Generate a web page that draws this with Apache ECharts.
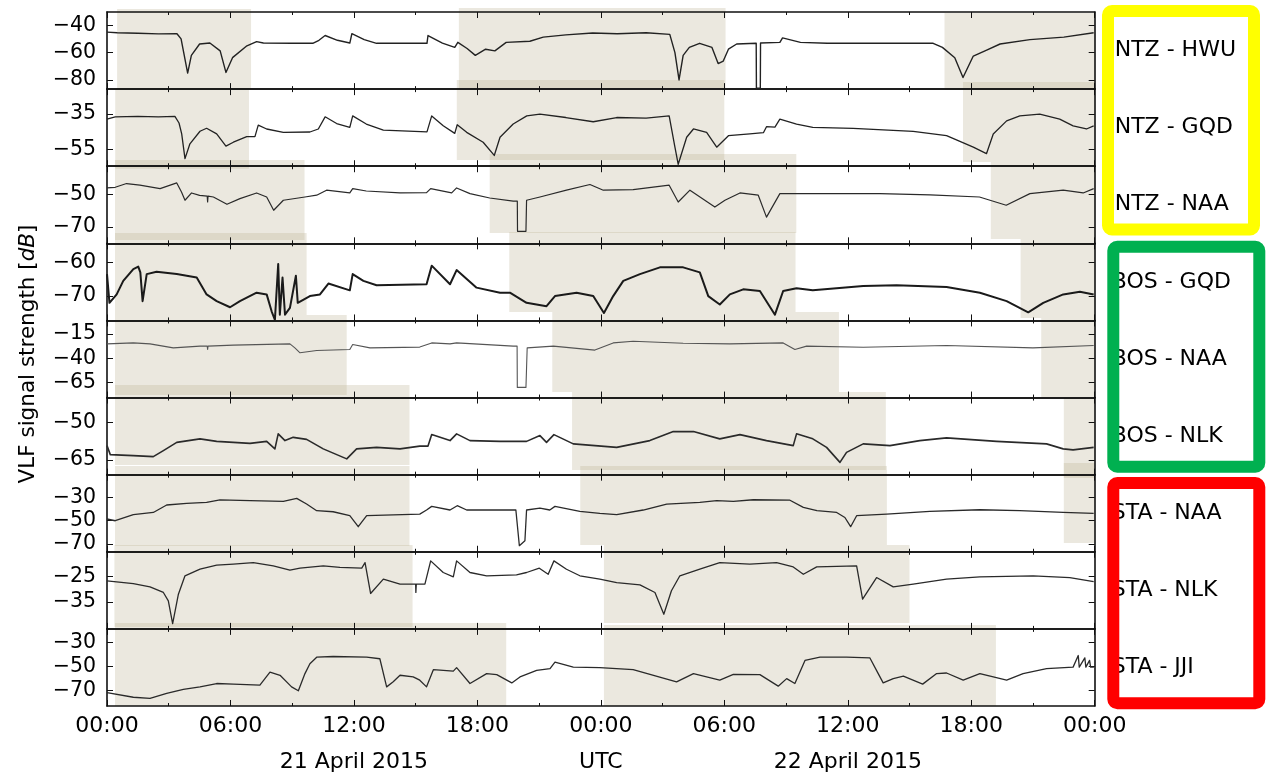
<!DOCTYPE html>
<html><head><meta charset="utf-8">
<script src="https://cdn.jsdelivr.net/npm/echarts@6/dist/echarts.min.js"></script>
<style>html,body{margin:0;padding:0;background:#fff}#c{width:1272px;height:777px}</style>
</head><body><div id="c"></div>
<script>
// ---------- data ----------
const stations = ['NTZ - HWU','NTZ - GQD','NTZ - NAA','BOS - GQD','BOS - NAA','BOS - NLK','STA - NAA','STA - NLK','STA - JJI'];
// hours since 21 April 2015 00:00 UTC, signal in dB
const ntzHwu = [[0,-45],[0.5,-45.5],[1.5,-45.8],[2.5,-46.3],[3.4,-46.2],[3.6,-50],[3.92,-75],[4.1,-62],[4.5,-53.7],[5.0,-53],[5.5,-58.7],[5.78,-74.5],[6.1,-63.7],[6.8,-55],[7.27,-52],[7.6,-53],[9.0,-53.2],[10.0,-53.2],[10.3,-51],[10.6,-47.5],[11.2,-51],[11.8,-53],[11.9,-46.2],[12.5,-50.5],[13.1,-53.2],[14.5,-53.2],[15.55,-53.2],[15.6,-47.5],[16.3,-53],[16.9,-56.2],[17.05,-52.5],[17.5,-57],[17.9,-62],[18.4,-57.5],[18.85,-58.7],[19.4,-52.5],[20.55,-51.7],[21.2,-48.7],[22.3,-47],[23.6,-45.7],[24.8,-46.2],[26.2,-45.5],[27.35,-46.7],[27.6,-60],[27.8,-80],[28.0,-62],[28.3,-56.2],[28.8,-53.2],[29.4,-56.2],[29.7,-68],[29.95,-66.2],[30.2,-57.5],[30.6,-53.7],[31.55,-53.2],[31.56,-86],[31.75,-86],[31.76,-53],[32.7,-52.5],[32.83,-49.2],[33.7,-52.5],[35,-53.2],[38,-53.2],[40.15,-53.2],[40.6,-56.2],[41.2,-63.7],[41.6,-78.2],[42.1,-62.5],[42.75,-58.2],[43.4,-53.7],[44.85,-50.5],[46.5,-48.7],[47.95,-45.5]];
const ntzGqd = [[0,-37.8],[0.4,-36.5],[1.5,-36.3],[2.5,-36.5],[3.3,-36.3],[3.5,-40],[3.63,-46.2],[3.79,-60.2],[4.03,-51.8],[4.52,-44.7],[4.84,-43],[5.33,-46.2],[5.78,-53.1],[6.14,-50.9],[6.79,-47.7],[7.19,-47.7],[7.35,-41.2],[7.76,-43.4],[8.57,-45.3],[9.86,-45.1],[10.27,-43.4],[10.6,-36.5],[11.16,-40.3],[11.8,-42.5],[11.94,-36],[12.6,-40.6],[13.43,-44],[15.55,-45],[15.78,-36],[16.34,-41.6],[16.9,-45.9],[17.02,-41],[17.48,-45.3],[18.28,-50.9],[18.82,-58.4],[19.1,-48.1],[19.74,-40.6],[20.4,-36],[21.04,-35],[22.3,-36.9],[23.63,-39.3],[24.77,-36.9],[26.2,-37.3],[27.32,-36],[27.6,-53.7],[27.76,-63.4],[28.17,-48.1],[28.5,-43.4],[29.14,-45.3],[29.63,-53.7],[30.2,-47.2],[31.24,-46.2],[31.9,-45.5],[32.05,-42.1],[32.46,-42.3],[32.7,-37.8],[33.51,-40.6],[34.3,-42.5],[36.26,-43],[39.18,-44.7],[40.8,-47.2],[42.1,-53.7],[42.74,-57.4],[43.07,-46.2],[43.72,-38.8],[44.36,-36],[45.33,-35],[46.3,-37.8],[46.95,-41.6],[47.6,-43.4],[47.95,-41.6]];
const ntzNaa = [[0,-45.9],[0.4,-45.5],[0.95,-43.2],[1.6,-44.2],[2.58,-46.3],[3.39,-42.8],[3.62,-48.4],[3.79,-53.5],[4.11,-49],[4.5,-50.5],[4.87,-51],[4.89,-54.6],[4.91,-51],[5.17,-51.5],[5.83,-56],[6.46,-52.5],[7.27,-49],[7.76,-51.5],[8.1,-59.7],[8.57,-53.5],[9.62,-51.5],[10.19,-50.4],[10.67,-47.3],[11.8,-49],[11.94,-46.3],[12.6,-47.8],[14.24,-49],[15.53,-48.8],[15.73,-46.3],[16.75,-49],[16.99,-45.9],[17.64,-49.4],[18.6,-52.1],[19.74,-54.1],[19.94,-54.1],[19.95,-72.7],[20.36,-72.7],[20.39,-53.5],[21.04,-51.5],[22.33,-47.3],[23.47,-43.8],[24.12,-47.3],[25.57,-46.9],[27.32,-44.2],[27.76,-54.6],[28.33,-47.3],[29.54,-57.7],[30.03,-53.5],[30.76,-49],[31.65,-50.4],[32.05,-63.9],[32.7,-49.4],[34.6,-49.4],[37.56,-49.4],[40,-50.2],[42.4,-51.5],[43.7,-56.6],[44.85,-49.4],[46.47,-47.3],[47.44,-49],[47.95,-46.3]];
const bosGqd = [[0,-63.5],[0.12,-72],[0.47,-69.5],[0.79,-65.5],[1.28,-62],[1.52,-61.3],[1.62,-63],[1.73,-71.5],[1.93,-63.5],[2.41,-62.8],[3.39,-63.5],[4.36,-64.5],[4.84,-69.5],[5.33,-71.5],[5.98,-73.3],[6.46,-71.5],[7.27,-69],[7.76,-69.5],[8.0,-74.5],[8.16,-77],[8.32,-60.5],[8.4,-75.5],[8.53,-64.5],[8.65,-75.5],[8.89,-73.5],[9.18,-64],[9.27,-72],[9.86,-70],[10.35,-69.5],[10.76,-66.3],[11.8,-68.3],[11.94,-63.5],[12.46,-65.5],[13.1,-66.8],[15.53,-66.5],[15.78,-61],[16.67,-66.5],[16.99,-62.3],[17.96,-67.5],[19.1,-69],[19.58,-69],[20.39,-72],[21.36,-73],[21.77,-70],[22.82,-69],[23.63,-70],[24.15,-75],[24.6,-70],[25.09,-65.5],[25.9,-63.5],[26.87,-61.5],[28.0,-61.5],[28.81,-63],[29.22,-70],[29.78,-72.5],[30.27,-69.5],[30.92,-68],[31.73,-68.5],[32.46,-75.5],[32.86,-68.5],[33.51,-67.7],[34.3,-68.3],[36.75,-67],[38.37,-66.8],[40.8,-67.3],[42.42,-69],[43.72,-71.5],[44.77,-74.8],[45.5,-72],[46.47,-69.5],[47.28,-68.7],[47.95,-69.5]];
const bosNaa = [[0,-25.2],[1.28,-24.2],[2.09,-25.2],[3.22,-29.3],[4.52,-27.5],[4.87,-27.5],[4.89,-31],[4.91,-27.5],[6.14,-26.5],[8.89,-25.2],[9.13,-29.3],[9.38,-34.4],[10.19,-32],[11.8,-31],[11.94,-25.8],[12.78,-29.3],[15.2,-28.5],[15.78,-24.2],[16.67,-25.2],[16.99,-24.2],[19.74,-27.5],[19.93,-27.5],[19.94,-70.1],[20.36,-70.1],[20.42,-29.3],[21.69,-27.5],[23.71,-31.6],[24.6,-24.2],[25.57,-22.5],[28.0,-24.5],[30.27,-25.2],[32.86,-24.2],[33.43,-31],[34.0,-27.5],[36.75,-28.6],[40.8,-26.9],[45.0,-29.3],[47.95,-26.9]];
const bosNlk = [[0,-59.3],[0.16,-62.9],[1.28,-63.3],[2.25,-63.7],[2.74,-61.3],[3.39,-58],[4.52,-56.6],[5.33,-57.6],[6.95,-58.4],[7.76,-57.6],[8.16,-60.6],[8.32,-54.6],[8.65,-57.3],[9.05,-56],[9.7,-56.8],[10.51,-60.6],[11.65,-64.6],[12.13,-60.6],[13.1,-60],[14.24,-60.6],[15.2,-59.5],[15.6,-59.5],[15.78,-54.9],[16.67,-57.3],[16.99,-54.6],[17.64,-57.3],[19.1,-57.6],[20.39,-57.6],[21.04,-55.3],[21.36,-58],[21.72,-54.9],[22.66,-58.6],[24.77,-60],[26.38,-57.3],[27.52,-53.7],[28.5,-53.7],[29.78,-56.6],[30.76,-54.9],[32.05,-57.3],[33.35,-59.3],[33.51,-54.6],[34.3,-56.6],[34.97,-60],[35.62,-66],[35.94,-62],[36.75,-58.6],[38.05,-59.3],[39.5,-57.3],[40.8,-56.2],[43.23,-57.6],[45.66,-58.6],[46.47,-60.6],[46.95,-61],[47.95,-60]];
const staNaa = [[0,-48.5],[0.4,-50],[1.28,-44.8],[2.25,-42.9],[2.9,-36.5],[3.87,-35.1],[4.84,-34.3],[5.49,-32.2],[6.95,-32.8],[8.57,-33.4],[9.22,-30.8],[9.7,-35.7],[10.19,-41.4],[10.99,-42.3],[11.8,-45.7],[12.21,-55.1],[12.62,-45.7],[15.2,-44.3],[15.53,-40.8],[15.78,-37.7],[16.67,-40.8],[17.02,-37.1],[17.48,-40.8],[19.87,-40.8],[20.04,-71.4],[20.31,-67.2],[20.39,-40.8],[21.04,-39.1],[21.52,-40.8],[21.77,-37.7],[22.98,-42],[23.95,-43.7],[24.77,-44.8],[26.06,-40.8],[27.2,-35.7],[28.81,-34.3],[29.63,-32.8],[30.44,-33.4],[31.41,-32],[33.19,-32.4],[33.84,-38.6],[34.5,-41.4],[35.46,-42.9],[35.86,-47.2],[36.14,-55.1],[36.43,-45.7],[37.89,-44.3],[39.99,-42],[42.42,-40.6],[44.36,-41.4],[46.47,-42.9],[47.95,-43.7]];
const staNlk = [[0,-26.7],[1.28,-27.8],[2.09,-29.1],[2.74,-31.3],[2.98,-34.6],[3.19,-43.6],[3.47,-32],[3.79,-24.7],[4.52,-22.1],[5.33,-20.5],[6.14,-20.1],[7.11,-19.5],[8.08,-20.8],[8.89,-22.5],[9.38,-21.7],[10.51,-20.8],[11.32,-21.4],[12.38,-21.7],[12.54,-19.5],[12.81,-31.7],[13.43,-26],[14.24,-28],[15.0,-28],[15.01,-31.3],[15.03,-28],[15.45,-28],[15.73,-18.8],[16.34,-23.4],[16.83,-25.1],[16.99,-18.8],[17.64,-23.4],[18.45,-24.7],[19.9,-24.3],[20.39,-23.4],[21.01,-21.7],[21.44,-24.1],[21.72,-18.8],[22.33,-22.1],[22.98,-24.7],[23.95,-26],[24.77,-27.4],[25.9,-28.3],[26.63,-31.3],[27.06,-39.9],[27.43,-30.6],[27.84,-24.7],[28.81,-22.1],[29.78,-19.5],[31.24,-20.1],[32.54,-19.5],[33.35,-21.2],[33.84,-24.1],[34.49,-21.2],[36.43,-20.8],[36.72,-33.9],[37.4,-25.4],[38.21,-29.1],[39.18,-28],[40.8,-26],[42.42,-25.1],[45.01,-24.7],[46.79,-25.4],[47.95,-27]];
const staJji = [[0,-72.1],[1.28,-75.9],[2.09,-76.8],[2.9,-72.6],[3.71,-69.3],[4.52,-67.2],[5.33,-64.4],[6.14,-64.9],[7.43,-65.8],[7.92,-54.8],[8.41,-57.5],[8.97,-67.2],[9.3,-70.5],[9.62,-56.1],[9.86,-47.9],[10.19,-42.4],[10.99,-41.8],[12.62,-42.4],[13.26,-43.7],[13.59,-67.2],[13.91,-63],[14.24,-57.5],[14.88,-58.9],[15.2,-61.6],[15.53,-67.2],[15.86,-52.8],[16.83,-54],[16.99,-51.1],[17.64,-64.4],[18.45,-56.1],[18.94,-57],[19.67,-63.9],[20.07,-58.9],[20.88,-53.4],[21.53,-52],[21.77,-46.5],[22.66,-50.7],[23.95,-51.1],[25.57,-52.8],[27.68,-63],[28.5,-56.1],[29.78,-61.6],[30.44,-56.7],[31.73,-57],[32.62,-66.6],[33.03,-60.3],[33.43,-64.4],[33.92,-45.1],[34.65,-42.4],[35.94,-42.4],[37.07,-42.9],[37.48,-56.1],[37.72,-63.9],[38.21,-60.3],[38.7,-58.3],[39.64,-64.9],[40.32,-56.1],[40.8,-55.6],[41.61,-61.6],[42.42,-56.1],[43.07,-58.9],[43.72,-61.6],[44.52,-56.1],[45.66,-52],[46.95,-50.7],[47.2,-41],[47.25,-50.7],[47.52,-42.9],[47.57,-50.7],[47.75,-45],[47.8,-50.7],[47.96,-50.7]];
const panelData = [ntzHwu, ntzGqd, ntzNaa, bosGqd, bosNaa, bosNlk, staNaa, staNlk, staJji];
const yMin = [-86.7,-64.5,-80.1,-77.2,-80.6,-70.9,-76.6,-45.7,-83.2];
const yMax = [-30.3,-20.8,-32.5,-54.4,-1,-40.1,-10.5,-15.2,-18.7];
const yTicks = [[-40,-60,-80],[-35,-55],[-50,-70],[-60,-70],[-15,-40,-65],[-50,-65],[-30,-50,-70],[-25,-35],[-30,-50,-70]];
const dateLabelHours = [12,24,36];
const dateLabels = ['21 April 2015','UTC','22 April 2015'];
// night-time shading: [startHour, endHour, top, bottom] ; vertical in panel units (0 = bottom panel base, 9 = top)
const nightSpans = [
 [0.49,7.0,9.039,8.015],[17.1,30.06,9.052,8.015],[40.7,48,8.987,7.989],
 [0.4,6.9,8.015,6.968],[17.0,30.0,8.118,7.081],[41.6,48,8.092,7.055],
 [0.39,9.6,7.081,6.043],[18.6,33.5,7.159,6.134],[42.95,48,7.055,6.056],
 [0.39,9.7,6.134,5.071],[19.55,33.46,6.147,5.110],[44.4,48,6.056,5.032],
 [0.39,11.65,5.071,4.033],[21.64,35.57,5.110,4.072],[45.4,48,5.032,4.007],
 [0.39,14.7,4.163,3.125],[22.6,37.85,4.072,3.061],[46.5,48,3.994,2.957],
 [0.39,14.7,3.112,2.075],[23.0,37.9,3.112,2.088],[46.5,48,3.151,2.114],
 [0.36,14.85,2.088,1.025],[24.15,39.0,2.088,1.076],
 [0.39,19.4,1.076,0],[24.15,43.2,1.050,0]
];

// ---------- layout ----------
const FONT = 'DejaVu Sans';
const LEFT = 107, RIGHT = 177.3, TOP = 12, PH = 77.11;
const lineW = [1.4,1.3,1.2,2.0,1.1,1.6,1.3,1.3,1.3];
const lineC = ['#222','#222','#2a2a2a','#1a1a1a','#555','#2a2a2a','#2a2a2a','#2a2a2a','#2a2a2a'];
const fmtHour = v => String(Math.round(v) % 24).padStart(2,'0') + ':00';
const fmtDb = v => (v < 0 ? '\u2212' : '') + Math.abs(v);
const spine = {show:true, onZero:false, lineStyle:{color:'#111', width:1.6}};

const chart = echarts.init(document.getElementById('c'));
const grids = [], xAxes = [], yAxes = [], series = [];
for (let i = 0; i < 9; i++) {
  grids.push({left:LEFT, right:RIGHT, top:TOP + i*PH, height:PH, containLabel:false, outerBoundsMode:'none'});
  const last = i === 8;
  ['bottom','top'].forEach(pos => {
    xAxes.push({type:'value', gridIndex:i, position:pos, min:0, max:48, interval:6, z:3,
      axisLine:spine,
      axisTick:{show:true, inside:true, length:6, lineStyle:{color:'#111', width:1}},
      minorTick:{show:true, splitNumber:2, length:3, lineStyle:{color:'#111', width:1}},
      splitLine:{show:false}, minorSplitLine:{show:false},
      axisLabel:{show:last && pos==='bottom', formatter:fmtHour, margin:9, fontFamily:FONT, fontSize:22, color:'#000', showMinLabel:true, showMaxLabel:true}
    });
  });
  yAxes.push({type:'value', gridIndex:i, position:'left', min:yMin[i], max:yMax[i], z:3,
    axisLine:spine,
    axisTick:{show:true, inside:true, length:6, customValues:yTicks[i], lineStyle:{color:'#111', width:1}},
    axisLabel:{customValues:yTicks[i], formatter:fmtDb, margin:11, fontFamily:FONT, fontSize:20.5, color:'#000'},
    splitLine:{show:false}
  });
  yAxes.push({type:'value', gridIndex:i, position:'right', min:yMin[i], max:yMax[i], z:3,
    name:stations[i], nameLocation:'middle', nameRotate:0, nameGap: i < 3 ? 20 : 17,
    nameTextStyle:{fontFamily:FONT, fontSize:22, color:'#000', align:'left', verticalAlign:'middle'},
    axisLine:spine,
    axisTick:{show:true, inside:true, length:6, customValues:yTicks[i], lineStyle:{color:'#111', width:1}},
    axisLabel:{show:false}, splitLine:{show:false}
  });
  series.push({type:'line', xAxisIndex:2*i, yAxisIndex:2*i, data:panelData[i], showSymbol:false, symbol:'none',
    z:5, silent:true, lineStyle:{color:lineC[i], width:lineW[i], join:'round'}});
}
// date/UTC labels under the bottom panel
xAxes.push({type:'value', gridIndex:8, position:'bottom', min:0, max:48, z:3,
  axisLine:{show:false}, axisTick:{show:false}, splitLine:{show:false},
  axisLabel:{customValues:dateLabelHours, formatter:v => dateLabels[dateLabelHours.indexOf(v)], margin:45, fontFamily:FONT, fontSize:22, color:'#000'}
});
// overlay grid for night shading
grids.push({left:LEFT, right:RIGHT, top:TOP, height:9*PH, containLabel:false, outerBoundsMode:'none'});
xAxes.push({type:'value', gridIndex:9, min:0, max:48, show:false});
yAxes.push({type:'value', gridIndex:9, min:0, max:9, show:false});
series.push({type:'custom', xAxisIndex:19, yAxisIndex:18, z:1, silent:true, data:nightSpans,
  encode:{x:[0,1], y:[2,3]},
  renderItem:(params, api) => {
    const p0 = api.coord([api.value(0), api.value(2)]);
    const p1 = api.coord([api.value(1), api.value(3)]);
    return {type:'rect', shape:{x:p0[0], y:p0[1], width:p1[0]-p0[0], height:p1[1]-p0[1]},
      style:{fill:'rgba(190,180,150,0.3)'}};
  }
});

chart.setOption({
  animation:false,
  backgroundColor:'#fff',
  grid:grids, xAxis:xAxes, yAxis:yAxes, series:series,
  graphic:[
    {type:'rect', z:100, shape:{x:1108, y:11, width:146, height:218.5, r:4}, style:{fill:'none', stroke:'#FFFF00', lineWidth:12, lineJoin:'round'}},
    {type:'rect', z:100, shape:{x:1113.3, y:246.7, width:146, height:220, r:4}, style:{fill:'none', stroke:'#00B050', lineWidth:12, lineJoin:'round'}},
    {type:'rect', z:100, shape:{x:1113.3, y:483, width:146, height:220.3, r:4}, style:{fill:'none', stroke:'#FF0000', lineWidth:12, lineJoin:'round'}},
    {type:'text', z:100, x:28, y:354, rotation:Math.PI/2,
      style:{text:'VLF signal strength [{i|dB}]', fontFamily:FONT, fontSize:21.5, fill:'#000', align:'center', verticalAlign:'middle',
        rich:{i:{fontFamily:FONT, fontSize:21.5, fontStyle:'italic', fill:'#000'}}}}
  ]
});
</script></body></html>
